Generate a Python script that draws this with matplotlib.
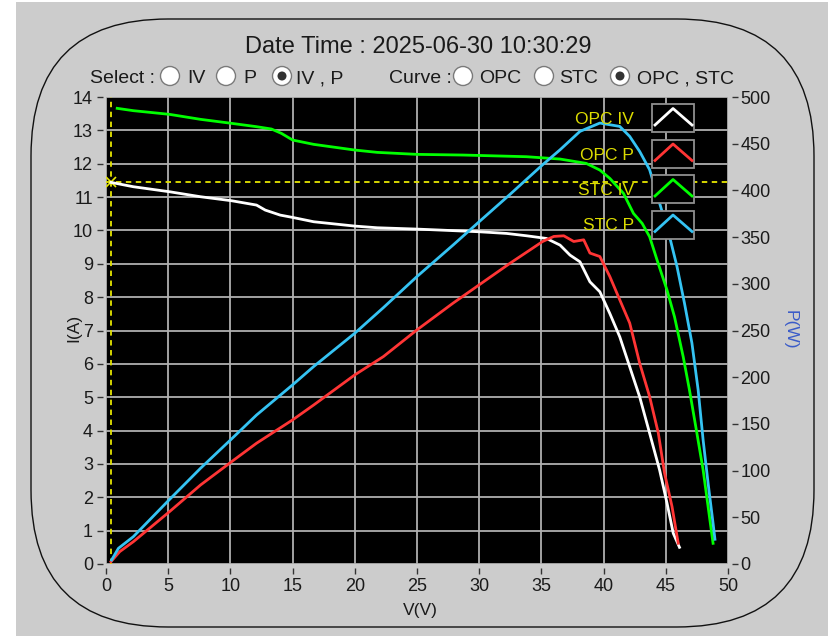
import matplotlib
matplotlib.use('Agg')
import matplotlib.pyplot as plt
from matplotlib.patches import FancyBboxPatch, Rectangle, Circle

plt.rcParams['font.family'] = ['Liberation Sans', 'DejaVu Sans']

# ---- data ----
date_time = '2025-06-30 10:30:29'

opc_iv_v = [0.4, 2.2, 5.1, 7.6, 10.1, 12.1, 12.8, 14.0, 15.0, 16.7, 20.0, 21.8, 25.0, 26.9, 30.0, 32.2,
            33.8, 35.4, 36.5, 37.3, 38.1, 38.9, 39.7, 40.5, 41.3, 42.1, 42.9, 43.7, 44.5, 45.1, 45.6, 46.1]
opc_iv_i = [11.44, 11.31, 11.16, 11.01, 10.89, 10.76, 10.61, 10.46, 10.39, 10.26, 10.13, 10.08, 10.04, 10.01,
            9.96, 9.91, 9.84, 9.76, 9.56, 9.26, 9.06, 8.46, 8.16, 7.51, 6.81, 5.91, 5.01, 3.92, 2.82, 1.82,
            0.92, 0.50]

opc_p_v = [0.4, 1.1, 2.2, 5.1, 7.6, 10.1, 12.1, 15.0, 16.7, 20.0, 22.3, 25.0, 27.9, 30.0, 32.5, 34.1,
           35.1, 36.0, 36.8, 37.6, 38.4, 38.9, 39.7, 40.5, 41.3, 42.1, 42.9, 43.7, 44.4, 44.9, 45.5, 46.0]
opc_p_w = [2.5, 13.2, 23.9, 56.0, 84.6, 109.6, 129.3, 154.3, 170.3, 202.5, 222.1, 250.7, 279.3, 298.9,
           322.2, 336.4, 345.3, 350.7, 351.4, 345.3, 347.1, 332.9, 329.2, 307.8, 282.8, 257.9, 215.0,
           179.2, 140.0, 97.2, 61.5, 22.2]

stc_iv_v = [0.9, 2.2, 5.1, 7.6, 10.1, 12.1, 13.3, 14.1, 15.0, 16.7, 20.0, 21.8, 25.0, 28.7, 33.8, 36.5,
            38.6, 39.7, 40.5, 41.6, 42.4, 43.1, 43.7, 44.3, 45.1, 45.7, 46.4, 46.9, 47.5, 48.0, 48.4, 48.8]
stc_iv_i = [13.66, 13.59, 13.48, 13.33, 13.21, 13.11, 13.04, 12.91, 12.71, 12.58, 12.41, 12.34, 12.28,
            12.26, 12.21, 12.14, 12.01, 11.81, 11.56, 11.11, 10.51, 10.21, 9.81, 9.11, 8.21, 7.41, 6.21,
            5.22, 3.92, 2.82, 1.72, 0.62]

stc_p_v = [0.45, 1.0, 2.2, 5.1, 7.6, 10.1, 12.1, 15.0, 16.7, 20.0, 22.3, 25.0, 27.9, 30.0, 32.5, 35.1,
           36.5, 38.1, 39.7, 40.5, 41.3, 42.1, 42.9, 43.7, 44.5, 45.3, 45.9, 46.5, 47.1, 47.6, 48.0, 48.4,
           48.8, 48.95]
stc_p_w = [4.3, 16.8, 29.3, 69.0, 102.5, 134.0, 159.5, 191.8, 211.5, 247.1, 274.5, 307.8, 341.5, 366.5,
           396.0, 427.5, 443.5, 463.2, 472.1, 470.3, 468.5, 457.8, 441.7, 422.1, 386.4, 350.7, 318.5,
           279.3, 236.5, 186.4, 132.8, 86.5, 43.6, 26.5]

cursor_v, cursor_i = 0.4, 11.45

series_names = ['OPC IV', 'OPC P', 'STC IV', 'STC P']
series_colors = ['white', '#ff3535', '#00ff00', '#35c3f3']

# ---- figure ----
W, H = 829, 636
fig = plt.figure(figsize=(W / 100, H / 100), dpi=100, facecolor='#cccccc')

# background layer in pixel coordinates
bg = fig.add_axes([0, 0, 1, 1], zorder=0)
bg.set_xlim(0, W)
bg.set_ylim(H, 0)
bg.axis('off')
bg.add_patch(Rectangle((0, 0), 16, H, facecolor='white', edgecolor='none'))
bg.add_patch(Rectangle((0, 0), W, 2, facecolor='white', edgecolor='none'))
bg.add_patch(FancyBboxPatch((31, 19), 783, 608, boxstyle='round,pad=0,rounding_size=137',
                            facecolor='none', edgecolor='#111111', lw=1.0))

txt = '#1a1a1a'
bg.text(418, 53, 'Date Time : ' + date_time, ha='center', va='baseline', fontsize=17, color=txt)

labels = [('Select :', 90), ('IV', 187), ('P', 243), ('IV , P', 296),
          ('Curve :', 389), ('OPC', 479), ('STC', 559), ('OPC , STC', 637)]
for s, x in labels:
    bg.text(x, 83, s, ha='left', va='baseline', fontsize=14, color=txt)
radios = [(170, False), (226, False), (282, True), (463, False), (544, False), (620, True)]
for x, on in radios:
    bg.add_patch(Circle((x, 76), 9.5, facecolor='white', edgecolor='#7a7a7a', lw=1.0))
    if on:
        bg.add_patch(Circle((x, 76), 4.5, facecolor='#333333', edgecolor='none'))

bg.text(74, 328, 'I(A)', rotation=90, ha='center', va='center', fontsize=12.5, color=txt)
bg.text(420, 610, 'V(V)', ha='center', va='center', fontsize=12.5, color=txt)
bg.text(790, 330, 'P(W)', rotation=-90, ha='center', va='center', fontsize=12.5, color='#3a5bc8')

# plot area
ax = fig.add_axes([106 / W, (H - 564) / H, 622 / W, 467 / H], zorder=1)
ax.set_facecolor('black')
ax2 = ax.twinx()
ax2.set_zorder(2)
ax2.patch.set_visible(False)

ax.set_xlim(0, 50)
ax.set_ylim(0, 14)
ax2.set_ylim(0, 500)
ax.set_xticks(range(0, 51, 5))
ax.set_yticks(range(0, 15))
ax2.set_yticks(range(0, 501, 50))
ax.grid(True, color='#b0b0b0', lw=1.3)
ax.set_axisbelow(True)

for a in (ax, ax2):
    for s in a.spines.values():
        s.set_visible(False)
ax.spines['left'].set_position(('outward', 2.2))
ax.spines['bottom'].set_position(('outward', 2.8))
ax2.spines['right'].set_position(('outward', 2.6))
ax.tick_params(axis='both', direction='out', length=4.2, width=1.0, color='#333333',
               labelsize=13, labelcolor=txt)
ax.tick_params(axis='y', pad=3.0)
ax.tick_params(axis='x', pad=3.0)
ax2.tick_params(axis='y', direction='out', length=4.2, width=1.0, color='#333333',
                labelsize=13, labelcolor=txt, pad=2.0)

# cursor
ax.axvline(cursor_v, color='#e6e600', ls=(0, (3, 2.5)), lw=1.3)
ax.axhline(cursor_i, color='#e6e600', ls=(0, (3, 2.5)), lw=1.3)
ax.plot([cursor_v], [cursor_i], marker='x', ms=7, mew=1.2, color='#e6e600')

ax.plot(opc_iv_v, opc_iv_i, color=series_colors[0], lw=2.0)
ax.plot(stc_iv_v, stc_iv_i, color=series_colors[2], lw=2.0)
ax2.plot(opc_p_v, opc_p_w, color=series_colors[1], lw=2.0)
ax2.plot(stc_p_v, stc_p_w, color=series_colors[3], lw=2.0)

# legend boxes drawn on top
lg = fig.add_axes([0, 0, 1, 1], zorder=3)
lg.set_xlim(0, W)
lg.set_ylim(H, 0)
lg.axis('off')
for k, (name, col) in enumerate(zip(series_names, series_colors)):
    top = 104 + k * 35.5
    lg.add_patch(Rectangle((652, top), 42, 28, facecolor='black', edgecolor='#909090', lw=1.3))
    lg.plot([655, 673, 692], [top + 21, top + 4.5, top + 21], color=col, lw=2.0)
    lg.text(634, top + 20, name, ha='right', va='baseline', fontsize=12.5, color='#dcdc00')

fig.savefig('out.png', dpi=100, facecolor=fig.get_facecolor())
